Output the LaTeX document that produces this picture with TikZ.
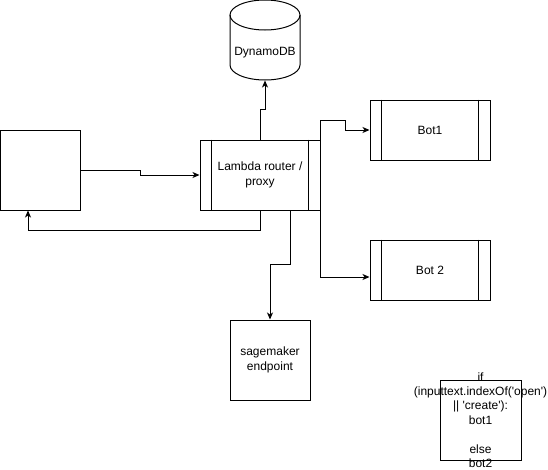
\documentclass[tikz,border=0pt]{standalone}
\usepackage{fontspec}
\setmainfont{Liberation Sans}
\usetikzlibrary{arrows.meta}
\newcommand{\sq}{\textquotesingle}
\begin{document}
\begin{tikzpicture}[x=1pt, y=1pt, line width=1pt,
    box/.style={draw, inner sep=0pt, align=center, font=\fontsize{12pt}{14.4pt}\selectfont},
    proc/.style={box, minimum width=120pt},
    arr/.style={-{Stealth[length=7pt, width=6pt, inset=2pt]}}]
    \useasboundingbox (0,0) rectangle (548,-469);

        % boxes
        \node[box, minimum width=80pt, minimum height=80pt] (client) at (40,-170) {};
        \node[proc, minimum height=70pt] (lambda) at (260,-175) {Lambda router /\\proxy};
        \node[proc, minimum height=60pt] (bot1) at (430,-130) {Bot1};
        \node[proc, minimum height=60pt] (bot2) at (430,-270) {Bot 2};
        \node[box, minimum width=80pt, minimum height=80pt] (sage) at (270,-360) {sagemaker\\endpoint};
        \node[box, minimum width=81pt, minimum height=80pt] (note) at (480.5,-420) {};
        \node[align=center, inner sep=0pt, font=\fontsize{12pt}{14.4pt}\selectfont] (notetext) at (note.center)
            {if\\(inputtext.indexOf(\sq open\sq)\\|| \sq create\sq):\\bot1\\~\\else\\bot2};

        % side bars
        \draw ([xshift=12pt]lambda.north west) -- ([xshift=12pt]lambda.south west);
        \draw ([xshift=-12pt]lambda.north east) -- ([xshift=-12pt]lambda.south east);
        \draw ([xshift=12pt]bot1.north west) -- ([xshift=12pt]bot1.south west);
        \draw ([xshift=-12pt]bot1.north east) -- ([xshift=-12pt]bot1.south east);
        \draw ([xshift=12pt]bot2.north west) -- ([xshift=12pt]bot2.south west);
        \draw ([xshift=-12pt]bot2.north east) -- ([xshift=-12pt]bot2.south east);

        % database
        \node[minimum width=70pt, minimum height=80pt, inner sep=0pt] (dynamo) at (265,-40) {};
        \draw (230,-15) -- (230,-65) arc[start angle=180, end angle=360, x radius=35, y radius=15] -- (300,-15);
        \draw (265,-15) ellipse[x radius=35, y radius=15];
        \node[font=\fontsize{12pt}{14.4pt}\selectfont] (dynamolabel) at (265,-53) {DynamoDB};

        % connectors
        \draw[arr] (client.east) -- ++(60,0) |- (lambda.west);
        \draw[arr] (lambda.south) -- ++(0,-20) -| ([xshift=-12pt]client.south);
        \draw[arr] (lambda.north) -- ++(0,30) -| (dynamo.south);
        \draw[arr] (lambda.north east) -- ++(0,19) -- ++(25,0) |- (bot1.west);
        \draw[arr] (lambda.south east) |- ([yshift=-7pt]bot2.west);
        \draw[arr] ([xshift=30pt]lambda.south) -- ++(0,-54) -| (sage.north);
\end{tikzpicture}
\end{document}
